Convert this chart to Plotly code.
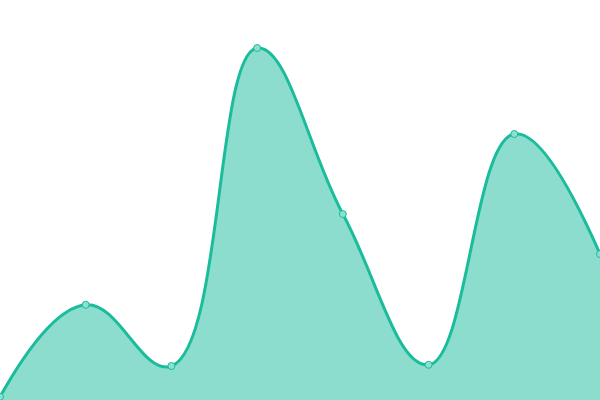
import plotly.graph_objects as go

# evenly spaced categories (0 = bottom edge)
categories = [0, 1, 2, 3, 4, 5, 6, 7]
values = [0.8, 23.8, 8.5, 88.0, 46.5, 8.8, 66.5, 36.5]

LINE = "#1abc9c"
FILL = "rgba(26,188,156,0.5)"

fig = go.Figure(
    go.Scatter(
        x=categories,
        y=values,
        mode="lines+markers",
        line=dict(color=LINE, width=3, shape="spline", smoothing=1.2),
        fill="tozeroy",
        fillcolor=FILL,
        marker=dict(size=7, color="#8de0cf", line=dict(color=LINE, width=1)),
        cliponaxis=False,
    )
)

fig.update_layout(
    width=600,
    height=400,
    margin=dict(l=0, r=0, t=0, b=0),
    paper_bgcolor="white",
    plot_bgcolor="white",
    showlegend=False,
    xaxis=dict(visible=False, range=[0, 7], fixedrange=True),
    yaxis=dict(visible=False, range=[0, 100], fixedrange=True),
)

# page body has a default 8px margin; drop it so the chart fills the window
fig.write_html(
    "out.html",
    config={"displayModeBar": False},
    post_script="document.body.style.margin = '0';",
)
